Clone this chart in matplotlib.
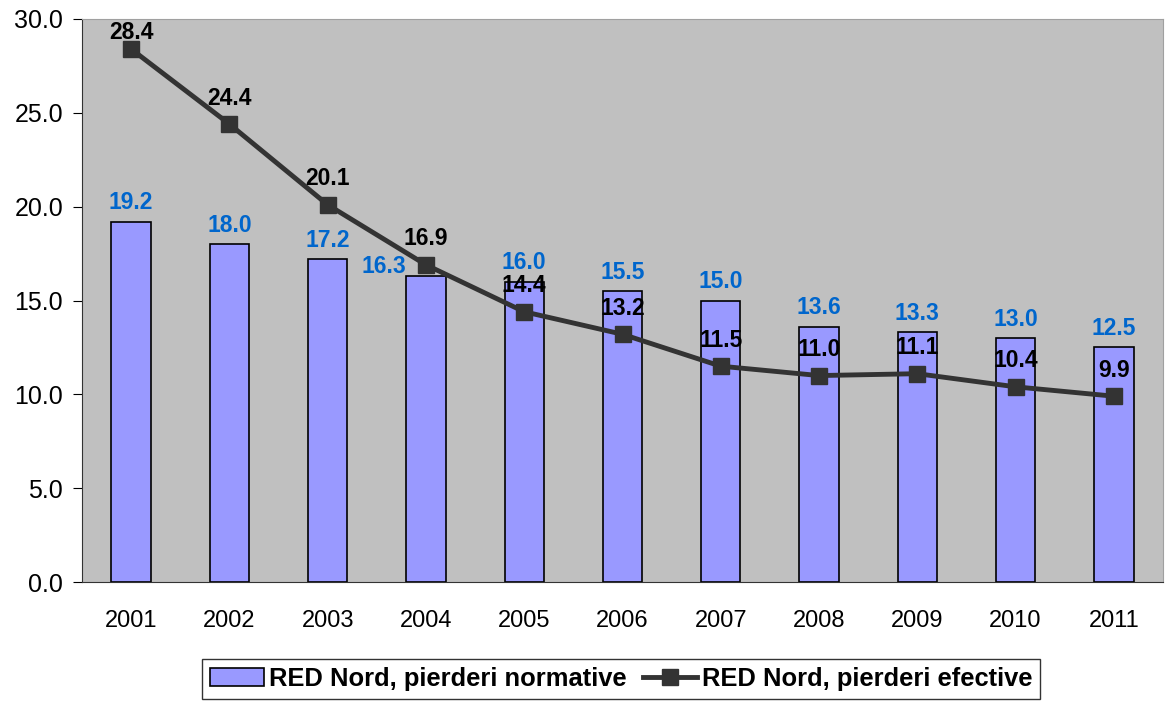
import numpy as np
import matplotlib.pyplot as plt
from matplotlib.lines import Line2D
from matplotlib.patches import Patch

plt.rcParams['font.family'] = ['Liberation Sans', 'DejaVu Sans']

years = ['2001', '2002', '2003', '2004', '2005', '2006',
         '2007', '2008', '2009', '2010', '2011']
normative = [19.2, 18.0, 17.2, 16.3, 16.0, 15.5, 15.0, 13.6, 13.3, 13.0, 12.5]
efective = [28.4, 24.4, 20.1, 16.9, 14.4, 13.2, 11.5, 11.0, 11.1, 10.4, 9.9]

label_norm = 'RED Nord, pierderi normative'
label_ef = 'RED Nord, pierderi efective'

x = np.arange(len(years))

fig = plt.figure(figsize=(11.7, 7.02), dpi=100)
ax = fig.add_axes([82/1170, 1 - 582/702, (1163-82)/1170, (582-19)/702])
ax.set_facecolor('#C0C0C0')

ax.bar(x, normative, width=0.4, color='#9999FF', edgecolor='black', linewidth=1.2, zorder=2)
ax.plot(x, efective, color='#333333', linewidth=3.5, marker='s', markersize=11, zorder=3)

# data labels; 2004 bar label sits left of the bar, 2001 line label is squeezed by the top
for i, v in enumerate(normative):
    dx, dy = (-42, 10) if i == 3 else (0, 19)
    ax.annotate(f'{v:.1f}', (x[i], v), xytext=(dx, dy), textcoords='offset pixels',
                ha='center', va='center', color='#0066CC', fontsize=16.5, fontweight='bold', zorder=4)
for i, v in enumerate(efective):
    dy = 17 if i == 0 else 26
    ax.annotate(f'{v:.1f}', (x[i], v), xytext=(0, dy), textcoords='offset pixels',
                ha='center', va='center', color='black', fontsize=16.5, fontweight='bold', zorder=4)

ax.set_xlim(-0.5, len(years) - 0.5)
ax.set_ylim(0, 30)
ax.set_yticks(np.arange(0, 30.1, 5))
ax.set_yticklabels([f'{t:.1f}' for t in np.arange(0, 30.1, 5)])
ax.set_xticks(x)
ax.set_xticklabels(years)
ax.tick_params(axis='y', labelsize=18, length=6.5, direction='out', pad=7)
ax.tick_params(axis='x', labelsize=17, length=0, pad=20)
for s in ['top', 'right']:
    ax.spines[s].set_color('#A0A0A0')
for s in ['left', 'bottom']:
    ax.spines[s].set_color('#333333')

handles = [Patch(facecolor='#9999FF', edgecolor='black', linewidth=1.2),
           Line2D([], [], color='#333333', linewidth=3.5, marker='s', markersize=11)]
leg = fig.legend(handles, [label_norm, label_ef], loc='center', bbox_to_anchor=(621/1170, 1 - 679/702),
                 ncol=2, frameon=True, fancybox=False, edgecolor='black',
                 prop={'size': 18.4, 'weight': 'bold'}, handlelength=2.1, handletextpad=0.2,
                 columnspacing=0.65, borderpad=0.3)
leg.get_frame().set_linewidth(1.0)

fig.savefig('out.png', dpi=100)
